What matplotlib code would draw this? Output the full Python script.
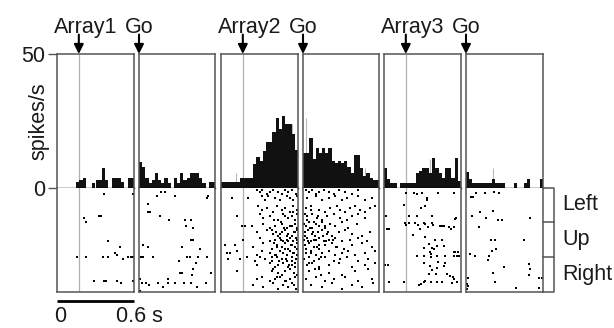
import numpy as np
import matplotlib.pyplot as plt

plt.rcParams['font.family'] = ['Liberation Sans', 'DejaVu Sans']
plt.rcParams['font.size'] = 15.5

# PSTH: 24 bins of 25 ms per 600 ms window, heights in spikes/s
bin_ms = 25
hist_array1 = [0, 0, 0, 0, 0, 0, 2.1, 2.9, 3.7, 0, 0, 1.9, 3.1, 3.1, 7.5, 3.1, 0, 3.7, 3.7, 3.7, 2.1, 0, 3.7, 3.7]
hist_go1 = [9.6, 8, 3.7, 1.9, 3.1, 5.6, 3.1, 1.9, 3.7, 1.9, 0, 3.7, 1.9, 5.6, 3.1, 3.7, 5.6, 5.6, 5.6, 3.7, 1.9, 0, 2.1, 2.1]
hist_array2 = [2.1, 2.1, 2.1, 2.1, 2.1, 2.1, 3.7, 3.7, 3.7, 3.7, 9, 11.4, 10.2, 13.9, 17, 17, 20.8, 26, 22, 26.7, 24, 24, 20, 14]
hist_go2 = [13, 13, 18.7, 11, 14.9, 13, 14.9, 13, 14.9, 10, 9.3, 10, 9.3, 10, 8, 5.6, 12.4, 12.4, 7.5, 4.4, 5.6, 3.7, 3.1, 3.1]
hist_array3 = [7.5, 3.4, 1.9, 1.9, 0, 1.9, 1.9, 1.9, 1.9, 1.9, 5.6, 6.5, 7.5, 7.5, 5.6, 11.2, 7.5, 5.6, 3.7, 7.5, 7.5, 3.7, 11.2, 2.5]
hist_go3 = [6, 3.5, 1.9, 1.9, 1.9, 1.9, 1.9, 1.9, 3.5, 1.9, 1.9, 1.9, 0, 0, 0, 1.9, 0, 0, 1.9, 3.5, 0, 0, 0, 3.5]

# faint grey overlay spikes (time ms, height spikes/s)
grey_array2_t, grey_array2_h = [-55, 382], [5.6, 24]
grey_go2_t, grey_go2_h = [23, 491], [26, 7.5]
grey_array3_t, grey_array3_h = [187], [11]
grey_go3_t, grey_go3_h = [210], [7.5]

# rasters: spike time (ms) and trial row (trials sorted Left / Up / Right)
ras_array1_t = [195, 421, 39, 55, 156, 171, 226, 319, 280, 296, -16, 55, 187, 226, 343, 382, 405, 421, 117, 195, 210, 296, 327, 421]
ras_array1_row = [3, 3, 15, 17, 14, 14, 27, 30, 33, 34, 35, 35, 35, 35, 36, 35, 35, 35, 47, 47, 47, 47, 48, 47]

ras_go1_t = [140, 171, 203, 288, 538, 545, 70, 70, 86, 164, 234, 366, 413, 374, 428, 413, 428, 343, 31, 70,
             483, 16, 31, 109, 382, 405, 467, 538, 312, 452, 428, 327, 343, 421, 569, 8, 23, 55, 78, 148,
             187, 226, 226, 288, 358, 413, 460, 530, 8]
ras_go1_row = [4, 2, 2, 4, 5, 4, 8, 12, 12, 14, 16, 16, 16, 19, 20, 26, 26, 30, 29, 30,
               31, 35, 35, 35, 35, 35, 35, 35, 37, 38, 41, 43, 43, 44, 43, 46, 48, 48, 49, 48,
               50, 46, 48, 48, 48, 48, 50, 48, 52]

ras_array2_t = [112, 133, 153, 185, 211, 237, 276, 302, 328, 354, 380, 413,
                -88, 42, 146, 172, 198, 250, 289, 341, 367, 393, 419,
                120, 146, 185, 237, 263, 302, 328, 367, 393, 419,
                -49, 133, 159, 211, 276, 315, 354, 380, 406, 424,
                -10, 16, 68, 159, 211, 250, 302, 341, 380, 406, 424,
                107, 185, 237, 276, 302, 328, 354, 380, 406, 424,
                3, 133, 211, 250, 289, 315, 341, 367, 393, 419,
                -140, -62, 81, 159, 224, 263, 302, 328, 354, 380, 406, 424,
                -127, -101, -49, 107, 146, 211, 250, 289, 315, 341, 367, 393, 419,
                -114, -23, 29, 94, 133, 172, 224, 263, 302, 341, 380, 413,
                107, 211, 250, 276, 315, 354, 380, 406,
                -49, 237, 276, 302, 328, 367, 398, 424,
                107, 146, 211, 250, 289, 328, 367, 406,
                81, 159, 237, 276, 315, 354, 380, 413,
                230, 260, 290, 320, 345, 370, 395, 415, 240, 270, 295, 325, 350, 375, 400, 420,
                225, 255, 285, 310, 335, 360, 385, 410, 245, 300, 330, 390, 225, 265, 340, 395]
ras_array2_row = [1, 2, 1, 3, 2, 1, 2, 3, 1, 2, 1, 3,
                  5, 5, 4, 6, 4, 5, 6, 4, 5, 6, 4,
                  9, 11, 10, 12, 9, 11, 10, 12, 9, 11,
                  14, 13, 15, 14, 16, 13, 15, 14, 16, 13,
                  19, 19, 19, 18, 20, 19, 18, 20, 19, 18, 20,
                  22, 21, 23, 24, 22, 21, 23, 24, 22, 21,
                  26, 25, 27, 26, 25, 27, 26, 25, 27, 26,
                  29, 29, 30, 28, 31, 29, 30, 28, 31, 29, 30, 28,
                  33, 33, 32, 34, 32, 33, 34, 32, 33, 34, 32, 33, 34,
                  36, 36, 35, 37, 35, 36, 37, 35, 36, 37, 35, 36,
                  39, 38, 40, 39, 38, 40, 39, 38,
                  42, 41, 43, 44, 42, 41, 43, 44,
                  46, 45, 47, 46, 45, 47, 46, 45,
                  49, 50, 48, 51, 49, 50, 48, 51,
                  21, 22, 23, 20, 24, 19, 22, 25, 28, 30, 26, 31, 27, 29, 33, 31,
                  35, 34, 37, 33, 36, 39, 37, 40, 16, 17, 14, 12, 42, 45, 47, 49]

ras_go2_t = [26, 47, 73, 99, 125, 164, 203, 242, 281, 333, 385, 437,
             34, 99, 151, 203, 255, 307, 346, 437, 489, 541,
             21, 60, 125, 177, 216, 268, 294, 333, 372, 411, 450, 489, 528, 567,
             34, 73, 112, 151, 190, 242, 294, 346, 385, 437, 489,
             8, 26, 47, 73, 99, 125, 151, 177, 216, 255, 307, 359, 424,
             16, 42, 68, 94, 120, 151, 190, 229, 281, 333, 385, 463, 528,
             8, 34, 60, 86, 125, 164, 203, 255, 307, 372, 437, 502,
             16, 47, 86, 125, 177, 229, 268, 320, 385, 463, 541,
             26, 60, 99, 151, 203, 255, 307, 359, 411, 489, 567,
             8, 47, 86, 125, 177, 242, 294, 346, 437, 515,
             34, 73, 125, 203, 281, 385, 489, 567,
             47, 125, 203, 307, 411, 515,
             21, 99, 177, 242, 333, 437, 541,
             60, 151, 229, 307, 385, 463, 554,
             12, 38, 55, 80, 105, 130, 160, 185, 20, 65, 110, 140,
             30, 90, 170, 200, 15, 60, 115, 235, 260, 50, 95, 140]
ras_go2_row = [1, 2, 1, 3, 2, 1, 2, 3, 1, 2, 3, 1,
               5, 4, 6, 5, 4, 6, 5, 4, 6, 5,
               10, 9, 11, 12, 10, 9, 11, 12, 10, 9, 11, 12, 10, 9,
               14, 13, 15, 16, 14, 13, 15, 16, 14, 13, 15,
               18, 19, 17, 20, 18, 19, 17, 20, 18, 19, 17, 20, 18,
               22, 21, 23, 24, 22, 21, 23, 24, 22, 21, 23, 24, 22,
               26, 25, 27, 26, 25, 27, 26, 25, 27, 26, 25, 27,
               29, 28, 30, 31, 29, 28, 30, 31, 29, 28, 30,
               33, 32, 34, 33, 32, 34, 33, 32, 34, 33, 32,
               36, 35, 37, 36, 35, 37, 36, 35, 37, 36,
               39, 38, 40, 39, 38, 40, 39, 38,
               42, 41, 43, 44, 42, 41,
               46, 45, 47, 46, 45, 47, 46,
               49, 50, 48, 51, 49, 50, 48,
               24, 27, 20, 22, 26, 29, 24, 27, 31, 33, 30, 35,
               16, 17, 19, 22, 13, 11, 14, 26, 30, 38, 41, 44]

ras_array3_t = [0, 62, 86, 125, 164, 164, 249, 374, -16, 117, 148, 23, 86, 203, 390, 382, -156, -148, -132, -8,
                0, 23, 70, 93, 140, 148, 203, 210, 109, 171, 265, 280, 296, 335, 351, 374, 55, 148, 226, 280,
                179, 241, 296, 140, 203, 218, 187, 86, 140, 195, 195, 241, 304, 374, 382, 405, 374, 397, 413, 249,
                304, 140, 187, -164, -140, 241, 296, 203, 234, 319, 343, 366, 179, -132, -16, 101, 117, 140, 148, 195,
                241, 280, 358, 374, 397]
ras_array3_row = [2.5, 2.5, 3, 2.5, 5, 6, 2.5, 2.5, 8.5, 10, 9, 14, 14, 14, 15, 15.5, 14, 20.5, 20.5, 17.5,
                  18.5, 17.5, 17.5, 18.5, 17.5, 18, 17.5, 18.5, 20.5, 19.5, 19, 19, 19, 19.5, 20.5, 19.5, 23.5, 24.5, 26.5, 26,
                  28.5, 29.5, 29.5, 30.5, 30.5, 31, 32.5, 34.5, 34.5, 33.5, 35, 34.5, 34.5, 32.5, 32.5, 32.5, 34.5, 34.5, 34.5, 37.5,
                  38, 38, 39.5, 39, 39, 40.5, 39.5, 41.5, 43.5, 43.5, 44.5, 45, 43.5, 47.5, 47.5, 49, 48.5, 47.5, 47, 47.5,
                  47.5, 47.5, 48, 46, 47.5]

ras_go3_t = [39, 55, 78, 148, 218, 257, 109, 47, 156, 210, 249, 280, 499, 101, 195, 226, 452, 31, 70, 179,
             203, 234, 171, 296, 491, 499, 491, 210, 16, 569, 592, 226, 16, 390, 569, 8, 8]
ras_go3_row = [4.5, 4.5, 2.5, 2.5, 2, 2.5, 12, 14, 15, 11.5, 16, 16, 15, 19.5, 26, 26, 26, 33.5, 34.5, 34.5,
               32, 31, 36.5, 40, 38.5, 41, 44, 43, 45.5, 45.5, 45.5, 47.5, 49.5, 50.5, 50.5, 48.5, 51]

groups = ['Left', 'Up', 'Right']
group_bounds = [0, 17, 35, 52.5]
scale_bar_ms = 600

panels = [
    dict(px=(57, 134), xlim=(-170, 430), label='Array1', hist=hist_array1, t=ras_array1_t, row=ras_array1_row, gt=[], gh=[]),
    dict(px=(139, 215), xlim=(0, 600), label='Go', hist=hist_go1, t=ras_go1_t, row=ras_go1_row, gt=[], gh=[]),
    dict(px=(221, 298), xlim=(-170, 430), label='Array2', hist=hist_array2, t=ras_array2_t, row=ras_array2_row, gt=grey_array2_t, gh=grey_array2_h),
    dict(px=(303, 379), xlim=(0, 600), label='Go', hist=hist_go2, t=ras_go2_t, row=ras_go2_row, gt=grey_go2_t, gh=grey_go2_h),
    dict(px=(384, 461), xlim=(-170, 430), label='Array3', hist=hist_array3, t=ras_array3_t, row=ras_array3_row, gt=grey_array3_t, gh=grey_array3_h),
    dict(px=(466, 543), xlim=(0, 600), label='Go', hist=hist_go3, t=ras_go3_t, row=ras_go3_row, gt=grey_go3_t, gh=grey_go3_h),
]

W, H = 614, 328
top, base, bottom = 54, 188, 292
frame = '#555555'
text_col = '#1a1a1a'
fig = plt.figure(figsize=(W / 100, H / 100), dpi=100)


def px_axes(x0, x1, y0, y1):
    return fig.add_axes([x0 / W, 1 - y1 / H, (x1 - x0) / W, (y1 - y0) / H])


axes = []
for p in panels:
    x0, x1 = p['px']
    hax = px_axes(x0, x1, top, base)
    rax = px_axes(x0, x1, base, bottom)
    edges = p['xlim'][0] + bin_ms * np.arange(len(p['hist']))
    hax.bar(edges, p['hist'], width=bin_ms, align='edge', color='#111111', linewidth=0, zorder=2)
    if p['gt']:
        hax.vlines(p['gt'], 0, p['gh'], color='#b8b8b8', lw=0.8, zorder=1)
    hax.set_xlim(p['xlim'])
    hax.set_ylim(0, 50)
    rax.plot(p['t'], p['row'], 's', ms=2.0, mew=0, color='black')
    rax.set_xlim(p['xlim'])
    rax.set_ylim(group_bounds[-1], 0)

    for ax in (hax, rax):
        ax.set_xticks([])
        ax.set_yticks([])
        for s in ax.spines.values():
            s.set_color(frame)
            s.set_linewidth(1.1)
    hax.spines['bottom'].set_color('black')
    hax.spines['bottom'].set_linewidth(1.0)
    rax.spines['top'].set_visible(False)

    is_array = p['label'] != 'Go'
    if is_array:
        hax.axvline(0, color='#b0b0b0', lw=0.9, zorder=1)
        rax.axvline(0, color='#b0b0b0', lw=0.9, zorder=0)

    # event arrow and label
    tr = hax.get_xaxis_transform()
    hax.annotate('', xy=(0, 1.0), xycoords=tr, xytext=(0, 1.145), textcoords=tr,
                 arrowprops=dict(arrowstyle='-|>', color='black', lw=1.5,
                                 mutation_scale=14, shrinkA=0, shrinkB=0))
    dx = 55 if is_array else 0
    hax.text(dx, 1.157, p['label'], transform=tr, ha='center', va='baseline', color=text_col)
    axes.append((hax, rax))

# y axis of the first histogram
h1, r1 = axes[0]
h1.set_yticks([0, 50])
h1.set_yticklabels(['0', '50'])
h1.tick_params(axis='y', length=6.5, width=1.0, color=frame, pad=2, labelsize=15.5, labelcolor=text_col)
h1.text(-0.235, 0.5, 'spikes/s', transform=h1.transAxes, rotation=90, ha='center', va='center', color=text_col)

# time scale bar under first panel
sb0 = panels[0]['xlim'][0]
r1.plot([sb0, sb0 + scale_bar_ms], [57, 57], color='black', lw=2.0, solid_capstyle='butt', clip_on=False)
r1.text(sb0 + 22, 65, '0', ha='center', va='center', color=text_col)
r1.text(290, 65, '0.6 s', ha='left', va='center', color=text_col)

# direction bracket on the right
r6 = axes[-1][1]
tr = r6.get_yaxis_transform()
bx = 1 + 11 / 77
r6.plot([1, bx, bx, 1], [group_bounds[0], group_bounds[0], group_bounds[-1], group_bounds[-1]],
        transform=tr, color=frame, lw=1.1, clip_on=False)
for b in group_bounds[1:-1]:
    r6.plot([1, bx], [b, b], transform=tr, color=frame, lw=1.1, clip_on=False)
for name, lo, hi in zip(groups, group_bounds[:-1], group_bounds[1:]):
    r6.text(1.25, (lo + hi) / 2, name, transform=tr, ha='left', va='center', color=text_col)

fig.savefig('out.png', dpi=100)
